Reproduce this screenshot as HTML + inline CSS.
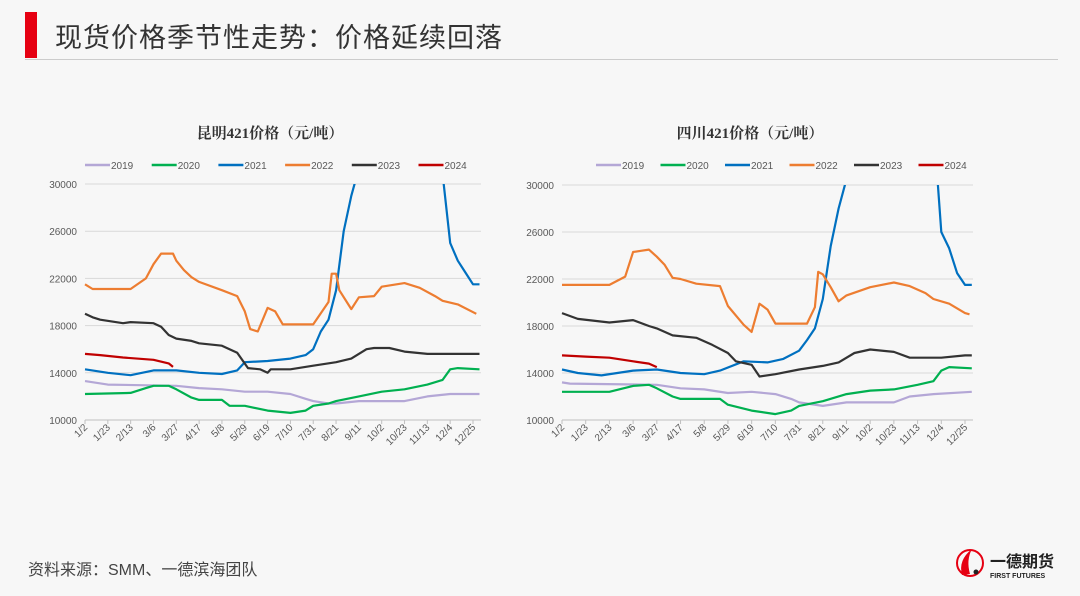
<!DOCTYPE html>
<html><head><meta charset="utf-8">
<style>
body{margin:0;width:1080px;height:596px;background:#f7f7f7;font-family:"Liberation Sans","Noto Sans CJK SC",sans-serif;overflow:hidden;position:relative}
.bar{position:absolute;left:25px;top:12px;width:12px;height:46px;background:#e60012}
.title{position:absolute;left:55px;top:16px;font-size:27px;color:#333;letter-spacing:1px}
.rule{position:absolute;left:25px;top:59px;width:1033px;height:1px;background:#ccc}
.foot{position:absolute;left:28px;top:556px;font-size:16px;color:#444}
svg{position:absolute;left:0;top:0}
</style></head><body>
<div class="bar"></div>
<div class="title">现货价格季节性走势：价格延续回落</div>
<div class="rule"></div>
<div class="foot">资料来源：SMM、一德滨海团队</div>
<svg id="chart" width="1080" height="596"></svg>
<svg width="1080" height="596">
  <circle cx="970" cy="563" r="13" fill="none" stroke="#e60012" stroke-width="2"/>
  <path d="M962 575 Q958 560 972 549 Q966 560 970 574 Z" fill="#e60012"/>
  <circle cx="976" cy="572" r="2.5" fill="#222"/>
  <text x="990" y="567" font-size="16" font-weight="bold" fill="#222" font-family="Liberation Sans,Noto Sans CJK SC,sans-serif">一德期货</text>
  <text x="990" y="578" font-size="7" font-weight="bold" fill="#222" font-family="Liberation Sans,sans-serif">FIRST FUTURES</text>
</svg>
<script>
const yearLabels=["2019","2020","2021","2022","2023","2024"];
const colors=["#b4a7d6","#00b050","#0070c0","#ed7d31","#333333","#c00000"];
const xTickLabels=["1/2","1/23","2/13","3/6","3/27","4/17","5/8","5/29","6/19","7/10","7/31","8/21","9/11","10/2","10/23","11/13","12/4","12/25"];
const yTicks=[10000,14000,18000,22000,26000,30000];
// Kunming series: [date strings], [values]
const kmD19=["1/2","1/23","3/27","4/17","5/8","5/29","6/19","7/10","7/24","7/31","8/14","8/21","9/11","10/2","10/23","11/13","12/4","12/31"];
const kmV19=[13300,13000,12900,12700,12600,12400,12400,12200,11800,11600,11400,11400,11600,11600,11600,12000,12200,12200];
const kmD20=["1/2","2/13","2/27","3/6","3/20","3/27","4/10","4/17","5/8","5/15","5/29","6/19","7/10","7/24","7/31","8/14","8/21","9/11","10/2","10/23","11/13","11/27","12/4","12/11","12/31"];
const kmV20=[12200,12300,12700,12900,12900,12600,11900,11700,11700,11200,11200,10800,10600,10800,11200,11400,11600,12000,12400,12600,13000,13400,14300,14400,14300];
const kmD21=["1/2","1/23","2/13","3/6","3/27","4/17","5/8","5/22","5/29","6/19","7/10","7/24","7/31","8/7","8/14","8/21","8/28","9/4","9/10","10/15","11/25","11/28","12/4","12/11","12/18","12/25","12/31"];
const kmV21=[14300,14000,13800,14200,14200,14000,13900,14200,14900,15000,15200,15500,16000,17500,18500,21000,26000,29000,31000,36000,31000,30000,25000,23500,22500,21500,21500];
const kmD22=["1/2","1/9","2/13","2/27","3/6","3/13","3/24","3/27","4/3","4/10","4/17","5/8","5/22","5/29","6/3","6/10","6/19","6/26","7/3","7/31","8/14","8/17","8/21","8/24","9/4","9/11","9/25","10/2","10/23","11/6","11/20","11/27","12/11","12/28"];
const kmV22=[21500,21100,21100,22000,23200,24100,24100,23500,22700,22100,21700,21000,20500,19200,17700,17500,19500,19200,18100,18100,20000,22400,22400,21000,19400,20400,20500,21300,21600,21200,20500,20100,19800,19000];
const kmD23=["1/2","1/9","1/16","2/6","2/13","3/6","3/13","3/20","3/27","4/10","4/17","5/8","5/22","6/1","6/12","6/19","6/22","7/10","7/31","8/21","9/4","9/18","9/25","10/9","10/23","11/13","12/31"];
const kmV23=[19000,18700,18500,18200,18300,18200,17900,17200,16900,16700,16500,16300,15700,14400,14300,14000,14300,14300,14600,14900,15200,16000,16100,16100,15800,15600,15600];
const kmD24=["1/2","1/16","2/6","3/6","3/20","3/24"];
const kmV24=[15600,15500,15300,15100,14800,14500];
// Sichuan series
const scD19=["1/2","1/9","3/27","4/17","5/8","5/29","6/19","7/10","7/24","7/31","8/21","9/11","10/23","11/6","11/27","12/31"];
const scV19=[13200,13100,13000,12700,12600,12300,12400,12200,11800,11500,11200,11500,11500,12000,12200,12400];
const scD20=["1/2","2/13","3/6","3/20","3/27","4/10","4/17","5/22","5/29","6/19","7/10","7/24","7/31","8/21","9/11","10/2","10/23","11/13","11/27","12/4","12/11","12/31"];
const scV20=[12400,12400,12900,13000,12700,12000,11800,11800,11300,10800,10500,10800,11200,11600,12200,12500,12600,13000,13300,14200,14500,14400];
const scD21=["1/2","1/16","2/6","3/6","3/27","4/17","5/8","5/22","6/12","7/3","7/17","7/31","8/7","8/14","8/21","8/28","9/4","9/11","10/15","11/28","12/1","12/4","12/11","12/18","12/25","12/31"];
const scV21=[14300,14000,13800,14200,14300,14000,13900,14200,15000,14900,15200,15900,16800,17800,20300,24800,28000,30500,36000,32000,30000,26000,24600,22500,21500,21500];
const scD22=["1/2","2/13","2/27","3/6","3/13","3/20","3/27","4/3","4/10","4/17","5/1","5/22","5/29","6/12","6/19","6/26","7/3","7/10","8/7","8/14","8/17","8/21","8/28","9/4","9/11","10/2","10/23","11/6","11/20","11/27","12/11","12/25","12/29"];
const scV22=[21500,21500,22200,24300,24400,24500,23900,23200,22100,22000,21600,21400,19700,18100,17500,19900,19400,18200,18200,19600,22600,22400,21300,20100,20600,21300,21700,21400,20800,20300,19900,19100,19000];
const scD23=["1/2","1/16","2/13","3/6","3/20","3/27","4/10","5/1","5/15","5/29","6/5","6/19","6/26","7/10","7/31","8/21","9/4","9/18","10/2","10/23","11/6","12/4","12/25","12/31"];
const scV23=[19100,18600,18300,18500,18000,17800,17200,17000,16400,15700,15000,14700,13700,13900,14300,14600,14900,15700,16000,15800,15300,15300,15500,15500];
const scD24=["1/2","1/23","2/13","3/6","3/20","3/27"];
const scV24=[15500,15400,15300,15000,14800,14500];

const NS="http://www.w3.org/2000/svg";
const svg=document.getElementById('chart');
const mdays=[31,28,31,30,31,30,31,31,30,31,30,31];
function doy(s){const [m,d]=s.split('/').map(Number);let n=0;for(let i=0;i<m-1;i++)n+=mdays[i];return n+d-2;}
function el(t,a,p){const e=document.createElementNS(NS,t);for(const k in a)e.setAttribute(k,a[k]);(p||svg).appendChild(e);return e;}

function drawChart(cfg,id){
  const x0=cfg.x0,x1=cfg.x1,yTop=cfg.yTop,yBot=cfg.yBot;
  const xs=d=>x0+(doy(d)===undefined?0:d)*(cfg.x25-x0)/357;
  const X=s=>x0+doy(s)*(cfg.x25-x0)/357;
  const Y=v=>yBot-(v-10000)*(yBot-yTop)/20000;
  const g=el('g',{});
  
  
  const t=el('text',{x:cfg.tx,y:138,'text-anchor':'middle','font-size':15,'font-weight':'bold',fill:'#333','font-family':'Liberation Serif,Noto Serif CJK SC,serif'},g);
  t.textContent=cfg.title;
  
  
  const cp=el('clipPath',{id:'cp'+id},g);
  el('rect',{x:x0-2,y:yTop,width:x1-x0+6,height:yBot-yTop+5},cp);
  yTicks.forEach(v=>{
    const ln=el('line',{x1:x0,x2:x1,y1:Y(v),y2:Y(v),stroke:'#d9d9d9','stroke-width':1},g);
    
    
    const tl=el('text',{x:x0-8,y:Y(v)+4,'text-anchor':'end','font-size':10,fill:'#595959'},g);
    tl.textContent=v;
    
    
  });
  el('line',{x1:x0,x2:x1,y1:yBot,y2:yBot,stroke:'#bfbfbf'},g);
  xTickLabels.forEach(s=>{
    const x=X(s);
    el('line',{x1:x,x2:x,y1:yBot,y2:yBot+4,stroke:'#bfbfbf'},g);
    const tl=el('text',{x:x+3,y:yBot+8,'text-anchor':'end','font-size':10,fill:'#595959',transform:`rotate(-45 ${x+3} ${yBot+8})`},g);
    tl.textContent=s;
    
    
  });
  const series=cfg.series;
  series.forEach((sr,i)=>{
    const pts=sr[0].map((d,j)=>X(d).toFixed(1)+','+Y(sr[1][j]).toFixed(1)).join(' ');
    const pl=el('polyline',{points:pts,fill:'none',stroke:colors[i],'stroke-width':2.2,'stroke-linejoin':'round','clip-path':`url(#cp${id})`},g);
    
    
    const lx=cfg.lx+i*cfg.ls;
    el('line',{x1:lx,x2:lx+25,y1:165,y2:165,stroke:colors[i],'stroke-width':2.5},g);
    const lt=el('text',{x:lx+26,y:169,'font-size':10,fill:'#595959'},g);
    lt.textContent=yearLabels[i];
    
    
  });
}
drawChart({x0:85,x1:481,x25:473,yTop:184,yBot:420,tx:270,title:'昆明421价格（元/吨）',lx:85,ls:66.7,
  series:[[kmD19,kmV19],[kmD20,kmV20],[kmD21,kmV21],[kmD22,kmV22],[kmD23,kmV23],[kmD24,kmV24]]},'kunming');
drawChart({x0:562,x1:973,x25:965,yTop:185,yBot:420,tx:750,title:'四川421价格（元/吨）',lx:596,ls:64.5,
  series:[[scD19,scV19],[scD20,scV20],[scD21,scV21],[scD22,scV22],[scD23,scV23],[scD24,scV24]]},'sichuan');
</script>
</body></html>
